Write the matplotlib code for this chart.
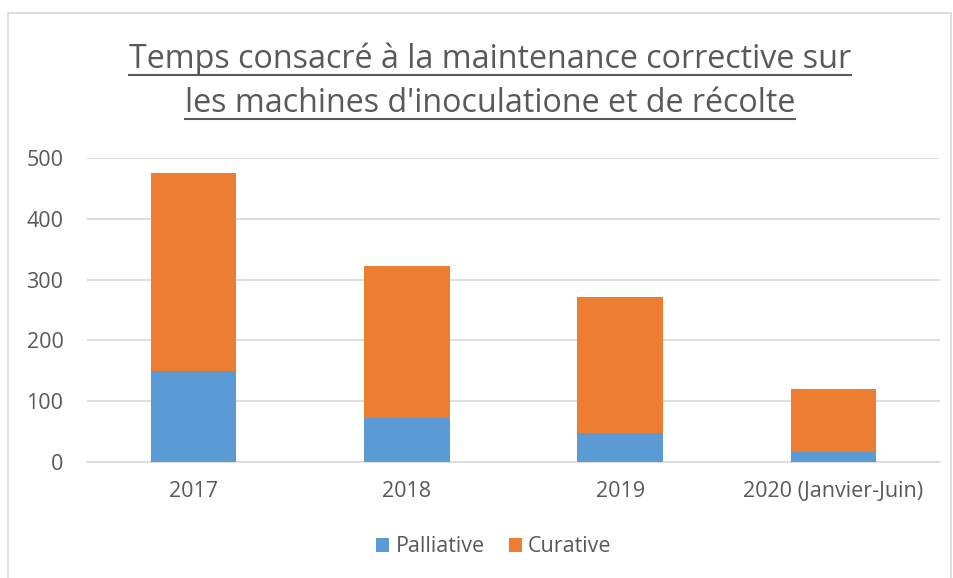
import matplotlib
matplotlib.use("Agg")
import matplotlib.pyplot as plt
from matplotlib.patches import Rectangle
from matplotlib.lines import Line2D
import numpy as np

categories = ["2017", "2018", "2019", "2020 (Janvier-Juin)"]
palliative = [150, 72, 47, 16]
curative = [325, 250, 225, 104]
yticks = [0, 100, 200, 300, 400, 500]
title_lines = ["Temps consacré à la maintenance corrective sur",
               "les machines d'inoculatione et de récolte"]

W, H = 954, 578
plt.rcParams['font.family'] = ['Open Sans', 'DejaVu Sans']
fig = plt.figure(figsize=(W / 100, H / 100), dpi=100)
TXT = "#595959"

# outer chart border
fig.patches.append(Rectangle((8 / W, -0.01), (951 - 8) / W, (H - 13) / H + 0.01,
                             transform=fig.transFigure, fill=False,
                             edgecolor="#d9d9d9", linewidth=1.2))

ax = fig.add_axes([87 / W, (H - 462) / H, (940 - 87) / W, (462 - 158) / H])
x = np.arange(len(categories))
bw = 0.4
ax.bar(x, palliative, bw, color="#5b9bd5", label="Palliative", zorder=3)
ax.bar(x, curative, bw, bottom=palliative, color="#ed7d31", label="Curative", zorder=3)
ax.set_xlim(-0.5, len(categories) - 0.5)
ax.set_ylim(0, 500)
ax.set_yticks(yticks)
ax.set_xticks(x)
ax.set_xticklabels(categories)
ax.grid(axis="y", color="#d9d9d9", linewidth=1.2, zorder=0)
for s in ["top", "right", "left"]:
    ax.spines[s].set_visible(False)
ax.spines["bottom"].set_color("#d9d9d9")
ax.spines["bottom"].set_linewidth(1.2)
ax.tick_params(axis="both", length=0, colors=TXT, labelsize=15.5)
ax.tick_params(axis="y", pad=17)
ax.tick_params(axis="x", pad=14)

leg = fig.legend(loc="center", bbox_to_anchor=(494 / W, 1 - 547 / H), ncol=2,
                 frameon=False, fontsize=15.5, handlelength=0.6, handleheight=0.6,
                 handletextpad=0.3, columnspacing=1.1)
for t in leg.get_texts():
    t.set_color(TXT)

# title with underline, size fitted to target width of first line
baselines = [67.5, 111.5]
target_w = 721
fs = 20
probe = fig.text(0, 0, title_lines[0], fontsize=fs)
fig.canvas.draw()
r = fig.canvas.get_renderer()
fs = fs * target_w / probe.get_window_extent(r).width
probe.remove()

texts = []
for line, yb in zip(title_lines, baselines):
    t = fig.text(490 / W, 1 - yb / H, line, ha="center", va="baseline",
                 fontsize=fs, color=TXT)
    texts.append(t)
fig.canvas.draw()
for t, yb in zip(texts, baselines):
    bb = t.get_window_extent(r)
    yl = 1 - (yb + 7) / H
    fig.lines.append(Line2D([bb.x0 / W, bb.x1 / W], [yl, yl], transform=fig.transFigure,
                            color=TXT, linewidth=1.5))

fig.savefig("out.png", dpi=100)
